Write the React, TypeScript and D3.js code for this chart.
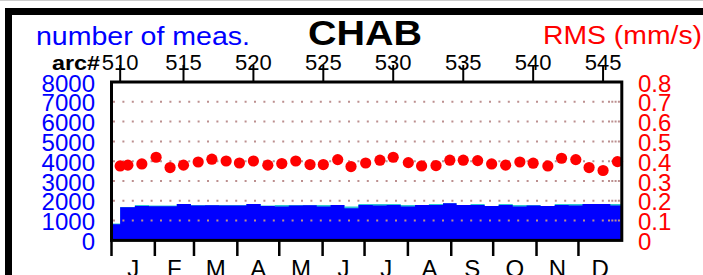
import * as d3 from 'd3';
import { useMemo } from 'react';

// arc numbers and the day of year each arc is plotted at
const arcs = [
  510, 511, 512, 513, 514, 515, 516, 517, 518, 519, 520, 521, 522, 523, 524, 525, 526, 527, 528,
  529, 530, 531, 532, 533, 534, 535, 536, 537, 538, 539, 540, 541, 542, 543, 544, 545, 546,
];
const arcDay = [
  6.2, 11.7, 21.7, 31.9, 41.9, 51.5, 62.0, 71.8, 82.0, 91.5, 101.5, 111.8, 121.8, 131.8, 142.0,
  151.5, 161.8, 171.3, 181.8, 192.0, 201.5, 212.3, 221.8, 232.1, 242.0, 251.6, 261.9, 271.9,
  281.9, 292.1, 301.6, 312.1, 321.9, 332.1, 341.6, 351.6, 361.9,
];
// day where each arc's measurement count starts
const measStart = [
  0, 6.2, 16.7, 26.8, 36.9, 46.7, 56.8, 66.9, 76.9, 86.8, 96.5, 106.7, 116.8, 126.8, 136.9,
  146.8, 156.7, 166.6, 176.6, 186.9, 196.8, 206.9, 217.1, 227.0, 237.1, 246.8, 256.8, 266.9,
  276.9, 287.0, 296.9, 306.9, 317.0, 327.0, 336.9, 346.6, 356.8,
];
const rms = [
  0.376, 0.38, 0.386, 0.42, 0.368, 0.38, 0.396, 0.41, 0.401, 0.391, 0.401, 0.38, 0.388, 0.401,
  0.383, 0.383, 0.408, 0.373, 0.391, 0.405, 0.42, 0.393, 0.376, 0.378, 0.405, 0.405, 0.403,
  0.386, 0.38, 0.396, 0.39, 0.376, 0.415, 0.408, 0.368, 0.353, 0.398,
];
const measUsed = [
  818, 1675, 1742, 1725, 1725, 1843, 1759, 1776, 1760, 1760, 1843, 1742, 1709, 1760, 1776, 1709,
  1793, 1625, 1793, 1759, 1793, 1709, 1793, 1793, 1877, 1793, 1793, 1742, 1793, 1709, 1759,
  1742, 1793, 1759, 1843, 1843, 1759,
];
const measTotal = [
  850, 1690, 1793, 1759, 1759, 1843, 1793, 1793, 1793, 1793, 1843, 1759, 1793, 1793, 1793, 1793,
  1793, 1709, 1843, 1843, 1843, 1793, 1793, 1843, 1877, 1793, 1843, 1742, 1843, 1793, 1793,
  1742, 1843, 1843, 1843, 1843, 1843,
];

const arcTicks = [510, 515, 520, 525, 530, 535, 540, 545];
const months = ['J', 'F', 'M', 'A', 'M', 'J', 'J', 'A', 'S', 'O', 'N', 'D'];
const monthStart = [0, 31, 59, 90, 120, 151, 181, 212, 243, 273, 304, 334];
const countTicks = [0, 1000, 2000, 3000, 4000, 5000, 6000, 7000, 8000];
const gridTicks = [1000, 2000, 3000, 4000, 5000, 6000, 7000];
const rmsTicks = [0, 0.1, 0.2, 0.3, 0.4, 0.5, 0.6, 0.7, 0.8];

const W = 703;
const H = 275;
const left = 111.5;
const right = 621.8;
const top = 82;
const bottom = 240.4;

const font = 'Liberation Sans, Arial, Helvetica, sans-serif';

export default function App() {
  const x = useMemo(() => d3.scaleLinear().domain([0, 365]).range([left, right]), []);
  const yCount = useMemo(() => d3.scaleLinear().domain([0, 8000]).range([bottom, top]), []);
  const yRms = useMemo(() => d3.scaleLinear().domain([0, 0.8]).range([bottom, top]), []);

  const stepArea = (vals: number[]) => {
    const pts: [number, number][] = measStart.map((d, i) => [d, vals[i]]);
    pts.push([365, vals[vals.length - 1]]);
    return (
      d3
        .area<[number, number]>()
        .x((d) => x(d[0]))
        .y0(yCount(0))
        .y1((d) => yCount(d[1]))
        .curve(d3.curveStepAfter)(pts) ?? ''
    );
  };

  const totalPath = stepArea(measTotal);
  const usedPath = stepArea(measUsed);

  return (
    <svg
      width={W}
      height={H}
      style={{ position: 'absolute', left: 0, top: 0, background: '#fff' }}
      fontFamily={font}
    >
      <rect x={0} y={0} width={W} height={H} fill='#fff' />
      <line x1={0} x2={W} y1={0.5} y2={0.5} stroke='#cccccc' />
      {/* outer frame */}
      <rect x={8.5} y={11.5} width={W + 20} height={H + 20} fill='none' stroke='#000' strokeWidth={7} />

      <text x={36} y={44.5} fontSize={25} fill='#0000ff' textLength={214} lengthAdjust='spacingAndGlyphs'>
        number of meas.
      </text>
      <text x={308} y={45} fontSize={35} fontWeight='bold' fill='#000' textLength={114} lengthAdjust='spacingAndGlyphs'>
        CHAB
      </text>
      <text x={543} y={43.5} fontSize={25} fill='#ff0000' textLength={159} lengthAdjust='spacingAndGlyphs'>
        RMS (mm/s)
      </text>
      <text x={52} y={69.5} fontSize={21} fontWeight='bold' fill='#000' textLength={48} lengthAdjust='spacingAndGlyphs'>
        arc#
      </text>

      {/* measurement counts */}
      <path d={totalPath} fill='#30c8d0' />
      <path d={usedPath} fill='#0000ff' />

      {/* grid */}
      {gridTicks.map((t) => (
        <g key={t}>
          <line x1={113} x2={606} y1={yCount(t)} y2={yCount(t)} stroke='#bc8f8f' strokeWidth={2} strokeDasharray='2 7.4' />
          <line x1={608} x2={620} y1={yCount(t)} y2={yCount(t)} stroke='#bc8f8f' strokeWidth={2} strokeDasharray='2 1.3' />
        </g>
      ))}

      {/* RMS points */}
      {rms.map((v, i) => (
        <circle key={arcs[i]} cx={x(arcDay[i])} cy={yRms(v)} r={5.6} fill='#ff0000' />
      ))}

      {/* plot box */}
      <rect x={left} y={top} width={right - left} height={bottom - top} fill='none' stroke='#000' strokeWidth={3} />

      {/* arc axis on top */}
      {arcTicks.map((a) => {
        const xx = x(arcDay[arcs.indexOf(a)]);
        return (
          <g key={a}>
            <line x1={xx} x2={xx} y1={65} y2={top} stroke='#000' strokeWidth={2} />
            <text x={xx} y={70} fontSize={22} textAnchor='middle' fill='#000'>
              {a}
            </text>
          </g>
        );
      })}

      {/* month axis */}
      {monthStart.map((d, i) => {
        const xx = x(d);
        const next = i < 11 ? monthStart[i + 1] : 365;
        return (
          <g key={i}>
            <line x1={xx} x2={xx} y1={bottom} y2={256} stroke='#000' strokeWidth={2.5} />
            <text x={x((d + next) / 2)} y={276.5} fontSize={24} textAnchor='middle' fill='#000'>
              {months[i]}
            </text>
          </g>
        );
      })}

      {/* left axis labels */}
      {countTicks.map((t) => (
        <text key={t} x={95} y={yCount(t) + 9.5} fontSize={24} textAnchor='end' fill='#0000ff'>
          {t}
        </text>
      ))}

      {/* right axis labels */}
      {rmsTicks.map((t) => (
        <text key={t} x={638} y={yRms(t) + 9.5} fontSize={24} fill='#ff0000'>
          {t === 0 ? '0' : t.toFixed(1)}
        </text>
      ))}
    </svg>
  );
}
